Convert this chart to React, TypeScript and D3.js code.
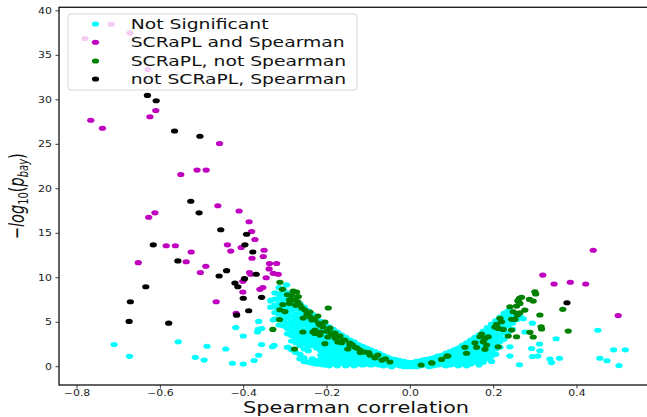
import React from "react";
import * as d3 from "d3";

const W = 647;
const H = 417;

const xTicks = [-0.8, -0.6, -0.4, -0.2, 0.0, 0.2, 0.4];
const yTicks = [0, 5, 10, 15, 20, 25, 30, 35, 40];
const legendLabels = ["Not Significant", "SCRaPL and Spearman", "SCRaPL, not Spearman", "not SCRaPL, Spearman"];
const groupColors = ["#00ffff", "#bf00bf", "#008000", "#000000"];

// dense "Not Significant" band, read column by column: [x, y-values]
const cyanColumns: [number, number[]][] = [
  [-0.335, [7.4, 6.7]],
  [-0.325, [8.3, 7.6, 6.9, 6.1, 5.4]],
  [-0.315, [8.9, 8.2, 7.7, 7.1, 6.5, 5.9, 5.3, 4.7]],
  [-0.305, [8.7, 8.1, 7.5, 6.9, 6.4, 5.8, 5.2, 4.6]],
  [-0.295, [8.3, 7.8, 7.2, 6.6, 6.1, 5.5, 4.9, 4.3, 3.7, 2.2]],
  [-0.285, [7.9, 7.4, 6.8, 6.3, 5.7, 5.1, 4.6, 4.0, 3.5, 2.9, 1.9]],
  [-0.275, [7.5, 7.0, 6.5, 5.9, 5.4, 4.8, 4.3, 3.7, 3.2, 2.7, 1.6]],
  [-0.265, [7.1, 6.6, 6.1, 5.5, 5.0, 4.5, 3.9, 3.4, 2.9, 2.4, 1.4, 0.9]],
  [-0.255, [6.7, 6.2, 5.7, 5.2, 4.7, 4.1, 3.6, 3.1, 2.6, 2.0, 1.0, 0.6]],
  [-0.245, [6.3, 5.8, 5.3, 4.8, 4.3, 3.8, 3.3, 2.8, 2.3, 1.8, 0.5]],
  [-0.235, [5.9, 5.4, 4.9, 4.4, 3.9, 3.4, 2.9, 2.4, 0.9, 0.4]],
  [-0.225, [5.5, 5.0, 4.6, 4.1, 3.6, 3.1, 2.6, 2.1, 0.7, 0.3]],
  [-0.215, [5.1, 4.7, 4.2, 3.7, 3.3, 2.8, 2.3, 1.8, 1.3, 0.8, 0.3]],
  [-0.205, [4.8, 4.4, 3.9, 3.4, 3.0, 2.5, 2.0, 1.6, 1.1, 0.6, 0.2]],
  [-0.195, [4.5, 4.1, 3.6, 3.2, 2.7, 2.3, 1.8, 1.4, 0.9, 0.5, 0.1]],
  [-0.185, [4.2, 3.8, 3.3, 2.9, 2.5, 2.0, 1.6, 1.2, 0.7, 0.3]],
  [-0.175, [3.9, 3.5, 3.1, 2.6, 2.2, 1.8, 1.4, 0.9, 0.5, 0.1]],
  [-0.165, [3.6, 3.2, 2.8, 2.4, 2.0, 1.6, 1.2, 0.8, 0.4]],
  [-0.155, [3.3, 2.9, 2.5, 2.1, 1.7, 1.3, 0.9, 0.5, 0.1]],
  [-0.145, [3.0, 2.7, 2.3, 1.9, 1.5, 1.1, 0.7, 0.3]],
  [-0.135, [2.8, 2.4, 2.0, 1.6, 1.3, 0.9, 0.5, 0.1]],
  [-0.125, [2.5, 2.2, 1.8, 1.4, 1.1, 0.7, 0.3]],
  [-0.115, [2.3, 2.0, 1.6, 1.2, 0.9, 0.5, 0.2]],
  [-0.105, [2.1, 1.8, 1.4, 1.1, 0.7, 0.3]],
  [-0.095, [1.9, 1.6, 1.2, 0.9, 0.5, 0.2]],
  [-0.085, [1.7, 1.4, 1.0, 0.7, 0.3]],
  [-0.075, [1.5, 1.2, 0.9, 0.5, 0.2]],
  [-0.065, [1.3, 1.0, 0.7, 0.4, 0.1]],
  [-0.055, [1.1, 0.8, 0.5, 0.2]],
  [-0.045, [0.9, 0.6, 0.3, 0.0]],
  [-0.035, [0.8, 0.5, 0.2]],
  [-0.025, [0.7, 0.4, 0.1]],
  [-0.015, [0.6, 0.3, 0.0]],
  [-0.005, [0.5, 0.2, 0.0]],
  [0.005, [0.5, 0.2, 0.0]],
  [0.015, [0.6, 0.3, 0.0]],
  [0.025, [0.7, 0.4, 0.1]],
  [0.035, [0.8, 0.5, 0.2]],
  [0.045, [0.9, 0.6, 0.3, 0.0]],
  [0.055, [1.0, 0.7, 0.4, 0.1]],
  [0.065, [1.2, 0.9, 0.5, 0.2]],
  [0.075, [1.3, 1.0, 0.7, 0.3]],
  [0.085, [1.5, 1.2, 0.8, 0.4, 0.1]],
  [0.095, [1.7, 1.3, 1.0, 0.6, 0.2]],
  [0.105, [1.9, 1.5, 1.1, 0.7, 0.3]],
  [0.115, [2.1, 1.7, 1.3, 0.9, 0.5, 0.1]],
  [0.125, [2.4, 2.0, 1.6, 1.2, 0.8, 0.3]],
  [0.135, [2.7, 2.3, 1.9, 1.4, 1.0, 0.5, 0.1]],
  [0.145, [3.0, 2.6, 2.1, 1.7, 1.2, 0.7, 0.3]],
  [0.155, [3.3, 2.9, 2.4, 1.9, 1.4, 0.9, 0.5]],
  [0.165, [3.6, 3.2, 2.7, 2.2, 1.7, 1.2, 0.7, 0.2]],
  [0.175, [4.0, 3.5, 3.0, 2.5, 2.0, 1.5, 1.0, 0.5]],
  [0.185, [4.4, 3.9, 3.4, 2.9, 2.4, 1.9, 1.4, 0.9]],
  [0.195, [4.8, 4.3, 3.8, 3.3, 2.8, 2.3, 1.7, 1.2, 0.6]],
  [0.205, [5.2, 4.7, 4.2, 3.6, 3.1, 2.6, 2.0, 1.4]],
  [0.215, [5.6, 5.1, 4.6, 4.0, 3.4, 2.8, 2.2]],
  [0.225, [6.0, 5.5, 5.0, 4.4, 3.8, 3.1]],
  [0.235, [6.3, 5.8, 5.2, 4.6, 3.9]],
  [0.245, [6.2, 5.6, 4.9, 4.2]],
  [0.255, [5.9, 5.3]],
  [0.265, [5.6]],
];

// scattered "Not Significant" points
const cyanScatter: [number, number][] = [
  [-0.711, 2.5], [-0.674, 1.17], [-0.557, 2.8], [-0.488, 2.3], [-0.443, 2.0], [-0.516, 1.06],
  [-0.495, 0.75], [-0.427, 0.4], [-0.401, 0.3], [-0.375, 0.7], [-0.419, 4.4], [-0.401, 3.45],
  [-0.364, 5.1], [-0.365, 4.2], [-0.357, 4.3], [-0.367, 3.9], [-0.357, 2.5], [-0.364, 1.3],
  [-0.327, 2.4], [-0.331, 2.25], [-0.293, 2.2], [-0.249, 0.56], [-0.212, 0.22], [-0.334, 7.5],
  [-0.321, 6.7], [-0.297, 9.2], [-0.329, 5.25],
  [0.293, 4.9], [0.350, 3.15], [0.450, 4.1], [0.310, 2.55], [0.291, 2.05], [0.311, 1.8],
  [0.239, 2.25], [0.239, 1.2], [0.293, 1.15], [0.306, 1.2], [0.335, 0.87], [0.339, 0.47],
  [0.358, 0.96], [0.262, 0.22], [0.488, 1.9], [0.516, 1.9], [0.455, 0.96], [0.472, 0.67],
  [0.501, 0.13], [0.275, 3.9], [0.271, 5.4],
];

const magentaPts: [number, number][] = [
  [-0.767, 27.7], [-0.739, 26.8], [-0.611, 28.8], [-0.625, 28.1], [-0.458, 25.1], [-0.551, 21.6],
  [-0.512, 22.1], [-0.490, 22.1], [-0.462, 18.1], [-0.411, 17.5], [-0.613, 17.3], [-0.628, 16.8],
  [-0.387, 16.3], [-0.381, 15.2], [-0.373, 14.3], [-0.586, 13.6], [-0.564, 13.6], [-0.439, 13.7],
  [-0.406, 13.4], [-0.431, 13.0], [-0.526, 12.9], [-0.351, 13.1], [-0.353, 12.4], [-0.380, 12.2],
  [-0.653, 11.7], [-0.538, 11.8], [-0.491, 11.3], [-0.338, 11.6], [-0.321, 11.6], [-0.339, 11.0],
  [-0.504, 10.6], [-0.386, 10.6], [-0.383, 10.4], [-0.329, 10.5], [-0.317, 10.4], [-0.346, 10.0],
  [-0.402, 9.6], [-0.361, 8.7], [-0.354, 8.9], [-0.402, 8.4], [-0.466, 7.3], [-0.418, 6.0],
  [0.439, 13.1], [0.318, 10.3], [0.345, 9.3], [0.384, 9.5], [0.421, 9.3], [0.499, 5.75],
  [-0.718, 38.5], [-0.781, 36.9], [-0.673, 37.5], [-0.630, 33.4],
];

const greenPts: [number, number][] = [
  [-0.313, 9.5], [-0.307, 8.7], [-0.295, 8.1], [-0.281, 8.5], [-0.273, 8.4], [-0.269, 7.9],
  [-0.290, 7.5], [-0.277, 7.5], [-0.306, 7.0], [-0.313, 6.4], [-0.301, 6.2], [-0.197, 6.6],
  [-0.314, 5.3], [-0.330, 4.2], [-0.278, 2.0], [-0.229, 3.75], [-0.258, 3.9], [-0.205, 2.6],
  [-0.265, 6.93], [-0.253, 6.37], [-0.241, 6.15], [-0.257, 5.47], [-0.236, 5.25], [-0.222, 5.7],
  [-0.217, 4.69], [-0.205, 5.02], [-0.229, 4.12], [-0.193, 4.35], [-0.181, 3.79], [-0.198, 3.34],
  [-0.169, 3.45], [-0.157, 3.0], [-0.174, 2.78], [-0.145, 2.66], [-0.133, 2.21], [-0.150, 1.99],
  [-0.121, 1.88], [-0.109, 1.65], [-0.097, 1.31], [-0.078, 1.31], [-0.068, 0.75], [-0.049, 0.53],
  [-0.234, 3.9], [-0.217, 3.56], [-0.186, 3.79], [-0.176, 3.34], [-0.162, 3.0], [-0.145, 2.44],
  [-0.128, 2.1], [-0.285, 8.0], [-0.29, 7.1], [-0.275, 6.9], [-0.27, 7.3], [-0.26, 6.6],
  [-0.248, 5.9], [-0.24, 5.6], [-0.23, 5.3], [-0.22, 4.9], [-0.21, 4.5], [-0.2, 4.0],
  [-0.19, 3.6], [-0.215, 3.9], [-0.18, 3.2], [-0.165, 2.7], [-0.14, 2.5], [-0.12, 1.6],
  [-0.1, 1.6], [-0.085, 1.0], [-0.06, 0.9],
  [0.026, 0.19], [0.052, 0.42], [0.075, 0.83], [0.088, 1.2],
  [0.299, 8.43], [0.301, 8.17], [0.286, 7.57], [0.295, 7.38], [0.262, 7.69], [0.267, 7.8],
  [0.258, 7.42], [0.263, 7.12], [0.255, 6.82], [0.239, 6.74], [0.247, 6.18], [0.263, 6.07],
  [0.275, 6.37], [0.257, 5.81], [0.311, 5.81], [0.366, 6.45], [0.379, 4.01], [0.314, 4.49],
  [0.315, 4.24], [0.287, 3.87], [0.295, 3.34], [0.255, 3.37], [0.235, 3.45], [0.243, 5.33],
  [0.251, 5.33], [0.215, 5.44], [0.219, 5.06], [0.207, 4.76], [0.203, 4.46], [0.211, 4.31],
  [0.223, 4.2], [0.243, 4.12], [0.211, 2.25], [0.171, 3.67], [0.167, 3.37], [0.179, 3.19],
  [0.187, 3.37], [0.175, 2.81], [0.155, 2.7], [0.159, 2.18], [0.183, 2.44], [0.179, 1.96],
  [0.131, 2.18], [0.135, 1.51], [0.090, 1.2], [0.051, 0.45],
];

const blackPts: [number, number][] = [
  [-0.631, 30.5], [-0.610, 29.9], [-0.566, 26.5], [-0.505, 25.9], [-0.527, 18.6], [-0.507, 17.3],
  [-0.455, 15.4], [-0.393, 14.9], [-0.617, 13.7], [-0.397, 13.7], [-0.378, 12.9], [-0.558, 11.9],
  [-0.441, 10.8], [-0.370, 10.4], [-0.459, 10.2], [-0.398, 9.9], [-0.421, 9.4], [-0.414, 9.0],
  [-0.635, 9.0], [-0.401, 7.7], [-0.357, 7.8], [-0.672, 7.3], [-0.388, 6.3], [-0.417, 5.8],
  [-0.675, 5.1], [-0.580, 4.9], [0.376, 7.2],
];

const SX = 1.37;
const FONT = "'DejaVu Sans', sans-serif";
const RX = 3.65;
const RY = 2.55;

export default function App() {
  const left = 59, right = 653, top = 7.3, bottom = 385;
  const x = d3.scaleLinear().domain([-0.8433, 0.5825]).range([left, right]);
  const y = d3.scaleLinear().domain([-2.05, 40.4]).range([bottom, top]);

  const cyanPts: [number, number][] = [
    ...cyanColumns.flatMap(([cx, ys]) => ys.map((v) => [cx, v] as [number, number])),
    ...cyanScatter,
  ];
  const groups: [number, number][][] = [cyanPts, magentaPts, greenPts, blackPts];
  const fmt = (t: number) => t.toFixed(1).replace("-", "\u2212");

  const legendRows = [24, 42.3, 61, 79];

  return (
    <svg width={W} height={H} style={{ display: "block", position: "absolute", left: 0, top: 0 }} fontFamily={FONT}>
      <rect x={0} y={0} width={W} height={H} fill="#fff" />
      <clipPath id="plotclip">
        <rect x={left} y={top} width={right - left} height={bottom - top} />
      </clipPath>
      <g clipPath="url(#plotclip)">
        {groups.map((pts, gi) =>
          pts.map(([px, py], i) => (
            <ellipse key={`${gi}-${i}`} cx={x(px)} cy={y(py)} rx={RX} ry={RY} fill={groupColors[gi]} />
          ))
        )}
      </g>
      {/* spines */}
      <rect x={left} y={top} width={right - left} height={bottom - top} fill="none" stroke="#222" strokeWidth={1.4} />
      {/* x ticks */}
      {xTicks.map((t) => (
        <g key={`xt${t}`}>
          <line x1={x(t)} x2={x(t)} y1={bottom} y2={bottom + 3.5} stroke="#222" strokeWidth={0.9} />
          <text transform={`translate(${x(t)},${bottom + 11}) scale(${SX},1)`} textAnchor="middle" fontSize={8} fill="#222">
            {fmt(t)}
          </text>
        </g>
      ))}
      {/* y ticks */}
      {yTicks.map((t) => (
        <g key={`yt${t}`}>
          <line x1={left - 3.5} x2={left} y1={y(t)} y2={y(t)} stroke="#222" strokeWidth={0.9} />
          <text transform={`translate(${left - 7},${y(t)}) scale(${SX},1)`} textAnchor="end" dy="0.36em" fontSize={8} fill="#222">
            {String(t)}
          </text>
        </g>
      ))}
      {/* axis labels */}
      <text transform={`translate(${(left + right) / 2},412.5) scale(${SX},1)`} textAnchor="middle" fontSize={15.3} fill="#111">
        Spearman correlation
      </text>
      <text transform={`translate(24,${(top + bottom) / 2}) scale(1.45,1) rotate(-90)`} textAnchor="middle" fontSize={14.5} fill="#111">
        <tspan>{"\u2212"}</tspan>
        <tspan fontStyle="italic">log</tspan>
        <tspan fontSize={10} dy={3}>10</tspan>
        <tspan dy={-3}>(</tspan>
        <tspan fontStyle="italic">p</tspan>
        <tspan fontStyle="italic" fontSize={10} dy={3}>bay</tspan>
        <tspan dy={-3}>)</tspan>
      </text>
      {/* legend */}
      <rect x={68} y={14} width={289} height={76} rx={3} fill="#fff" fillOpacity={0.8} stroke="#ccc" strokeOpacity={0.8} strokeWidth={1} />
      {legendLabels.map((lab, i) => (
        <g key={lab}>
          <ellipse cx={95.5} cy={legendRows[i]} rx={RX} ry={RY} fill={groupColors[i]} />
          <text transform={`translate(130.7,${legendRows[i] + 5}) scale(${SX},1)`} fontSize={13.7} fill="#111">
            {lab}
          </text>
        </g>
      ))}
    </svg>
  );
}
